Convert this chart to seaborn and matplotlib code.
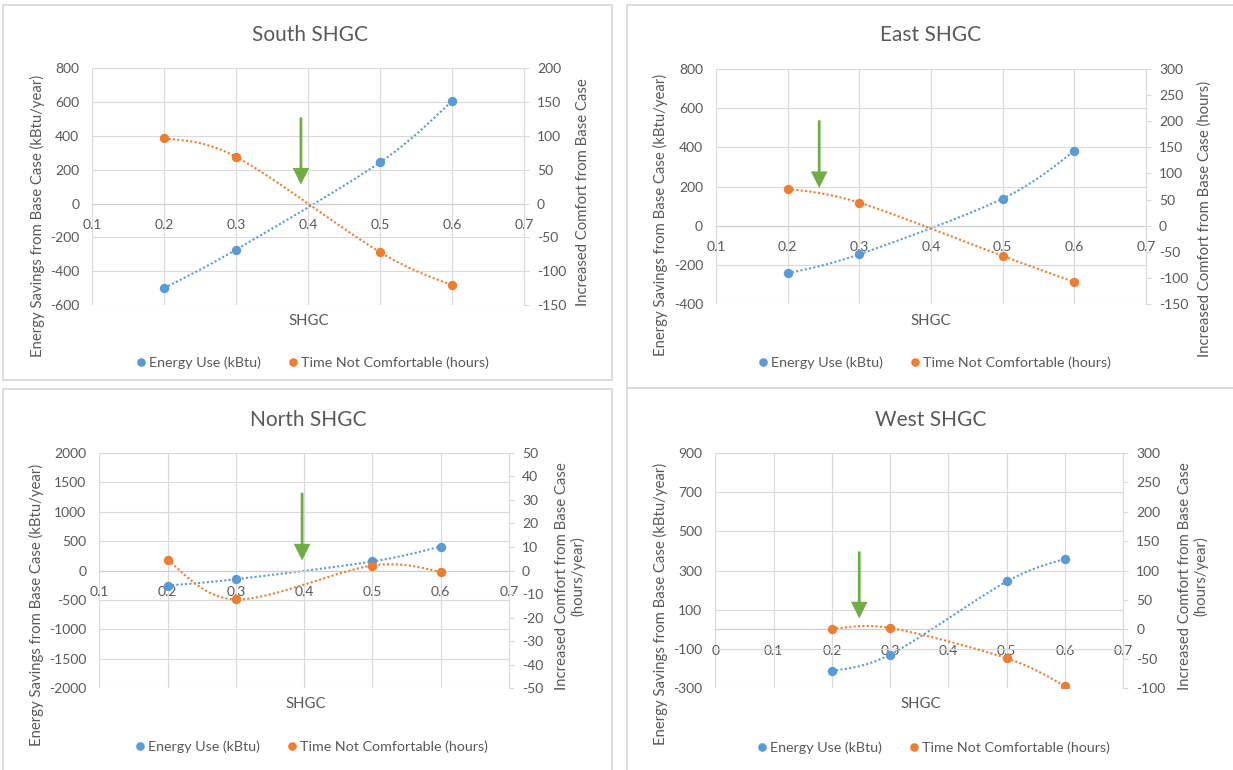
import numpy as np
import matplotlib
matplotlib.use("Agg")
import matplotlib.pyplot as plt
from matplotlib.lines import Line2D
from matplotlib.patches import Rectangle
import seaborn as sns

# ---- data -----------------------------------------------------------------
shgc = [0.2, 0.3, 0.5, 0.6]

south_energy = [-500, -272, 244, 605]
south_time = [97, 69, -72, -121]

east_energy = [-244, -146, 138, 380]
east_time = [71, 44, -58, -108]

north_energy = [-255, -148, 153, 405]
north_time = [4.3, -12.3, 2.1, -0.5]

west_energy = [-213, -128, 244, 360]
west_time = [1.1, 2.3, -49, -96]

# recommended SHGC markers: (shgc, arrow start, arrow tip) on the energy axis
south_arrow = (0.39, 510, 112)
east_arrow = (0.244, 538, 192)
north_arrow = (0.397, 1320, 170)
west_arrow = (0.247, 397, 56)

legend_labels = ["Energy Use (kBtu)", "Time Not Comfortable (hours)"]
left_label = "Energy Savings from Base Case (kBtu/year)"

# ---- style ----------------------------------------------------------------
W, H = 1233, 770
BLUE = "#5B9BD5"
ORANGE = "#ED7D31"
GREEN = "#70AD47"
TEXT = "#595959"
GRID = "#D9D9D9"

TICK_FS = 10.0
AXIS_FS = 10.7
LEG_FS = 10.3
TITLE_FS = 15.0

sns.set_style("white")
plt.rcParams["font.family"] = ["Lato", "DejaVu Sans"]
plt.rcParams["axes.unicode_minus"] = False

panels = [
    dict(title="South SHGC", energy=south_energy, time=south_time, arrow=south_arrow,
         xlim=(0.1, 0.7), ylim=(-600, 800), ystep=200, y2lim=(-150, 200), y2step=50,
         y2label="Increased Comfort from Base Case",
         box=(92.3, 68.3, 524, 305), frame=(3, 5.5, 612, 379.5),
         title_xy=(310, 40.7), ylab_xy=(37, 216), y2lab_xy=(583, 192),
         xlab_xy=(309, 325), leg_xy=(312, 363)),
    dict(title="East SHGC", energy=east_energy, time=east_time, arrow=east_arrow,
         xlim=(0.1, 0.7), ylim=(-400, 800), ystep=200, y2lim=(-150, 300), y2step=50,
         y2label="Increased Comfort from Base Case (hours)",
         box=(716, 69, 1146, 304), frame=(627, 5.5, 1236, 388),
         title_xy=(931, 40.7), ylab_xy=(660, 215), y2lab_xy=(1205, 219),
         xlab_xy=(931, 325), leg_xy=(934, 363)),
    dict(title="North SHGC", energy=north_energy, time=north_time, arrow=north_arrow,
         xlim=(0.1, 0.7), ylim=(-2000, 2000), ystep=500, y2lim=(-50, 50), y2step=10,
         y2label="Increased Comfort from Base Case\n(hours/year)",
         box=(99.3, 452.7, 509, 688.3), frame=(3, 388.5, 612, 775),
         title_xy=(308, 425.7), ylab_xy=(36.7, 605), y2lab_xy=(570, 576),
         xlab_xy=(306, 708), leg_xy=(311, 747)),
    dict(title="West SHGC", energy=west_energy, time=west_time, arrow=west_arrow,
         xlim=(0.0, 0.7), ylim=(-300, 900), ystep=200, y2lim=(-100, 300), y2step=50,
         y2label="Increased Comfort from Base Case\n(hours/year)",
         box=(715.3, 452.7, 1123.3, 688.3), frame=(627, 387.5, 1236, 775),
         title_xy=(931, 425.7), ylab_xy=(660.7, 604), y2lab_xy=(1193.5, 576.5),
         xlab_xy=(921, 708), leg_xy=(933, 748)),
]


def fx(x):
    return x / W


def fy(y):
    return 1 - y / H


def smooth_curve(x, y, n=40):
    """Bezier smoothing through the points (Catmull-Rom style control points)."""
    pts = np.column_stack([x, y]).astype(float)
    ext = np.vstack([pts[0], pts, pts[-1]])
    t = np.linspace(0, 1, n)[:, None]
    out = []
    for i in range(len(pts) - 1):
        p0, p3 = ext[i + 1], ext[i + 2]
        c1 = p0 + (ext[i + 2] - ext[i]) / 6
        c2 = p3 - (ext[i + 3] - ext[i + 1]) / 6
        seg = ((1 - t) ** 3) * p0 + 3 * ((1 - t) ** 2) * t * c1 \
            + 3 * (1 - t) * t ** 2 * c2 + t ** 3 * p3
        out.append(seg if i == 0 else seg[1:])
    return np.vstack(out)


fig = plt.figure(figsize=(W / 100, H / 100), dpi=100)
fig.patch.set_facecolor("white")

DOTS = (0, (1, 1.1))

for p in panels:
    # chart frame
    l, t, r, b = p["frame"]
    fig.add_artist(Rectangle((fx(l), fy(b)), fx(r - l), (b - t) / H,
                             transform=fig.transFigure, fill=False,
                             edgecolor=GRID, linewidth=1.3, zorder=0))

    l, t, r, b = p["box"]
    ax = fig.add_axes([fx(l), fy(b), fx(r - l), (b - t) / H])
    ax2 = ax.twinx()

    ce = smooth_curve(shgc, p["energy"])
    ct = smooth_curve(shgc, p["time"])

    sns.lineplot(x=ce[:, 0], y=ce[:, 1], sort=False, estimator=None, ax=ax,
                 color=BLUE, linewidth=1.5, linestyle=DOTS, zorder=2)
    sns.scatterplot(x=shgc, y=p["energy"], ax=ax, color=BLUE, s=46,
                    linewidth=0, zorder=3)
    sns.lineplot(x=ct[:, 0], y=ct[:, 1], sort=False, estimator=None, ax=ax2,
                 color=ORANGE, linewidth=1.5, linestyle=DOTS, zorder=2)
    sns.scatterplot(x=shgc, y=p["time"], ax=ax2, color=ORANGE, s=46,
                    linewidth=0, zorder=3)

    ax.set_xlim(*p["xlim"])
    ax.set_ylim(*p["ylim"])
    ax2.set_ylim(*p["y2lim"])
    xt = np.round(np.arange(p["xlim"][0], p["xlim"][1] + 1e-9, 0.1), 1)
    ax.set_xticks(xt)
    ax.set_xticklabels([f"{v:g}" for v in xt])
    yt = np.arange(p["ylim"][0], p["ylim"][1] + 1, p["ystep"])
    ax.set_yticks(yt)
    ax.set_yticklabels([f"{v:g}" for v in yt])
    y2t = np.arange(p["y2lim"][0], p["y2lim"][1] + 1, p["y2step"])
    ax2.set_yticks(y2t)
    ax2.set_yticklabels([f"{v:g}" for v in y2t])

    ax.set_xlabel("")
    ax.set_ylabel("")
    ax2.set_ylabel("")

    ax.grid(True, color=GRID, linewidth=0.8)
    ax.set_axisbelow(True)
    for s in ("left", "right", "top"):
        ax.spines[s].set_visible(False)
    ax.spines["bottom"].set_position(("data", 0))
    ax.spines["bottom"].set_color("#CFCFCF")
    ax.spines["bottom"].set_linewidth(0.9)
    for s in ("left", "top", "bottom"):
        ax2.spines[s].set_visible(False)
    ax2.spines["right"].set_color(GRID)
    ax2.spines["right"].set_linewidth(0.8)

    ax.tick_params(axis="x", length=0, pad=11.0, labelsize=TICK_FS, labelcolor=TEXT)
    ax.tick_params(axis="y", length=0, pad=9.4, labelsize=TICK_FS, labelcolor=TEXT)
    ax2.tick_params(axis="y", length=3.3, width=0.8, color=GRID, pad=6,
                    labelsize=TICK_FS, labelcolor=TEXT)

    ax_x, a_top, a_tip = p["arrow"]
    ax.annotate("", xy=(ax_x, a_tip), xytext=(ax_x, a_top),
                arrowprops=dict(facecolor=GREEN, edgecolor="none", width=2.0,
                                headwidth=12, headlength=12, shrink=0),
                zorder=5)

    # texts
    fig.text(fx(p["title_xy"][0]), fy(p["title_xy"][1]), p["title"],
             ha="center", va="baseline", fontsize=TITLE_FS, color=TEXT)
    fig.text(fx(p["ylab_xy"][0]), fy(p["ylab_xy"][1]), left_label,
             rotation=90, ha="center", va="center", fontsize=AXIS_FS, color=TEXT)
    fig.text(fx(p["y2lab_xy"][0]), fy(p["y2lab_xy"][1]), p["y2label"],
             rotation=90, ha="center", va="center", multialignment="center",
             fontsize=AXIS_FS, color=TEXT, linespacing=1.1)
    fig.text(fx(p["xlab_xy"][0]), fy(p["xlab_xy"][1]), "SHGC",
             ha="center", va="baseline", fontsize=AXIS_FS, color=TEXT)

    handles = [Line2D([], [], marker="o", linestyle="none", color=c,
                      markersize=6.2, markeredgewidth=0) for c in (BLUE, ORANGE)]
    fig.legend(handles, legend_labels, loc="center",
               bbox_to_anchor=(fx(p["leg_xy"][0]), fy(p["leg_xy"][1])),
               ncol=2, frameon=False, fontsize=LEG_FS, labelcolor=TEXT,
               handlelength=0.8, handletextpad=0.16, columnspacing=1.8,
               borderpad=0, borderaxespad=0)

fig.savefig("out.png", dpi=100, facecolor="white")
